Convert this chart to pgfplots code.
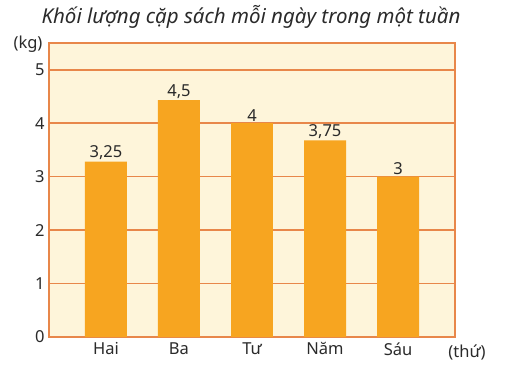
\documentclass[border=0pt]{standalone}
\usepackage{pgfplots}
\pgfplotsset{compat=1.18}
\usepackage{fontspec}
\setmainfont{Noto Sans}
\definecolor{barc}{HTML}{F7A520}
\definecolor{bgc}{HTML}{FEF5DA}
\definecolor{gridc}{HTML}{E8874A}
\definecolor{txt}{HTML}{2A2A2A}
\begin{document}
\begin{tikzpicture}[x=1pt,y=1pt]
\path[use as bounding box] (-49,-29) rectangle (469,337);
\begin{axis}[
  at={(0,0)}, anchor=south west,
  scale only axis, width=406pt, height=294pt,
  xmin=0.22, xmax=5.78, ymin=0, ymax=5.5,
  axis background/.style={fill=bgc},
  axis line style={gridc, line width=1.6pt},
  ytick={0,1,2,3,4,5},
  ymajorgrids, grid style={gridc, line width=1.6pt},
  major tick length=0pt,
  xtick={1,2,3,4,5},
  xticklabels={Hai,Ba,Tư,Năm,Sáu},
  ticklabel style={font=\fontsize{16.5}{18}\selectfont, text=txt},
  /pgf/number format/assume math mode=true,
  yticklabel style={xshift=-1pt},
  xticklabel style={yshift=-2pt},
  ybar, bar width=0.575,
  nodes near coords,
  point meta=explicit symbolic,
  every node near coord/.append style={font=\fontsize{16.5}{18}\selectfont, text=txt, inner sep=1.5pt},
]
\addplot[fill=barc, draw=none] coordinates {(1,3.28) [3,25] (2,4.43) [4,5] (3,4) [4] (4,3.68) [3,75] (5,3) [3]};
\end{axis}
\node[text=txt, font=\fontsize{20.5}{22}\selectfont\itshape] at (202,320) {Khối lượng cặp sách mỗi ngày trong một tuần};
\node[text=txt, font=\fontsize{16.5}{18}\selectfont] at (-21,293) {(kg)};
\node[text=txt, font=\fontsize{16.5}{18}\selectfont] at (418,-15) {(thứ)};
\end{tikzpicture}
\end{document}
